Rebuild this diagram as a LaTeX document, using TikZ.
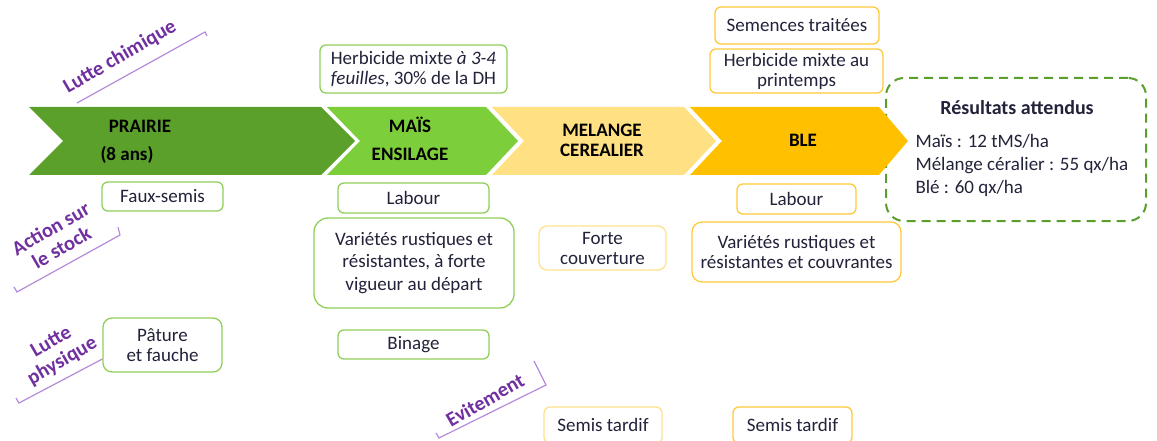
\documentclass[tikz,border=0pt]{standalone}
\usepackage{fontspec}
\setmainfont{Carlito}
\definecolor{prairie}{HTML}{5CA02C}
\definecolor{mais}{HTML}{7CCF3A}
\definecolor{melange}{HTML}{FFE083}
\definecolor{ble}{HTML}{FFC000}
\definecolor{boxgreen}{HTML}{8FD05A}
\definecolor{boxyellow}{HTML}{FFC93C}
\definecolor{boxlight}{HTML}{FFE18C}
\definecolor{dashgreen}{HTML}{5A9E2C}
\definecolor{txt}{HTML}{22223A}
\definecolor{purptxt}{HTML}{7030A0}
\definecolor{purpline}{HTML}{B48AD9}
\tikzset{
  gbox/.style={draw=boxgreen, line width=1.3pt, rounded corners=6pt, fill=white, align=center, inner sep=1pt, text=txt, font=\fontsize{19}{20}\selectfont},
  ybox/.style={gbox, draw=boxyellow},
  lbox/.style={gbox, draw=boxlight},
  chevtxt/.style={font=\bfseries\fontsize{19}{20}\selectfont, align=center, text=black},
  purp/.style={text=purptxt, font=\bfseries\fontsize{20.5}{21}\selectfont, rotate=30, align=center},
  brk/.style={draw=purpline, line width=1.2pt},
}
\begin{document}
\begin{tikzpicture}[x=1pt,y=-1pt]
\useasboundingbox (0,0) rectangle (1157,441);
\clip (0,0) rectangle (1157,441);

% results box (behind chevrons)
\node[draw=dashgreen, line width=2pt, dash pattern=on 9pt off 6pt, rounded corners=18pt,
      minimum width=260pt, minimum height=143pt, anchor=north west, inner sep=0pt] (res) at (885,77) {};

% chevrons
\fill[prairie] (29,107) -- (321,107) -- (355,141) -- (321,175) -- (29,175) -- (63,141) -- cycle;
\fill[mais] (327,107) -- (486,107) -- (518,141) -- (486,175) -- (327,175) -- (360,141) -- cycle;
\fill[melange] (492,107) -- (684,107) -- (716,141) -- (684,175) -- (492,175) -- (524,141) -- cycle;
\fill[ble] (690,107) -- (879,107) -- (908,141) -- (879,175) -- (690,175) -- (722,141) -- cycle;

\node[chevtxt] (pr1) at (140,126) {PRAIRIE};
\node[chevtxt] (pr2) at (127,155) {(8 ans)};
\node[chevtxt, font=\bfseries\fontsize{19}{28}\selectfont] (ma) at (410,139) {MAÏS\\ENSILAGE};
\node[chevtxt] (me) at (602,140) {MELANGE\\CEREALIER};
\node[chevtxt] (bl) at (803,140) {BLE};

% results text
\node[font=\bfseries\fontsize{20}{20}\selectfont, text=txt] (rt) at (1017,108) {Résultats attendus};
\node[font=\fontsize{19}{23}\selectfont, text=txt, align=left, anchor=west] (rl) at (912,165)
  {Maïs : 12 tMS/ha\\Mélange céralier : 55 qx/ha\\Blé : 60 qx/ha};

% boxes
\node[gbox, minimum width=187pt, minimum height=48pt] (h1) at (413.5,69)
  {Herbicide mixte \textit{à 3-4}\\\textit{feuilles}, 30\% de la DH};
\node[ybox, minimum width=164pt, minimum height=37pt] (st) at (797,25.5) {Semences traitées};
\node[ybox, minimum width=173pt, minimum height=44pt] (hp) at (796.5,71) {Herbicide mixte au\\printemps};
\node[gbox, minimum width=121pt, minimum height=29pt] (fs) at (162.5,196.5) {Faux-semis};
\node[gbox, minimum width=151pt, minimum height=30pt] (lab1) at (413.5,198) {Labour};
\node[gbox, rounded corners=14pt, font=\fontsize{19}{22.5}\selectfont, minimum width=200pt, minimum height=90pt] (var1) at (414,263)
  {Variétés rustiques et\\résistantes, à forte\\vigueur au départ};
\node[gbox, rounded corners=9pt, minimum width=119pt, minimum height=54pt] (pat) at (162.5,345) {Pâture\\et fauche};
\node[gbox, minimum width=151pt, minimum height=29pt] (bin) at (413.5,344.5) {Binage};
\node[lbox, rounded corners=8pt, minimum width=127pt, minimum height=44pt] (fc) at (602.5,248) {Forte\\couverture};
\node[ybox, minimum width=119pt, minimum height=30pt] (lab2) at (796.5,199) {Labour};
\node[ybox, rounded corners=10pt, minimum width=209pt, minimum height=60pt] (var2) at (796.5,252)
  {Variétés rustiques et\\résistantes et couvrantes};
\node[lbox, minimum width=118pt, minimum height=36pt] (sem1) at (603,425) {Semis tardif};
\node[ybox, minimum width=119pt, minimum height=36pt] (sem2) at (792.5,425) {Semis tardif};

% purple labels
\node[purp] (lc) at (120,57) {Lutte chimique};
\coordinate (lca) at (77,103);
\coordinate (lcb) at (205,32);
\coordinate (lcc) at (207,36);
\draw[brk] (lca) -- (lcb) -- (lcc);

\node[purp, font=\bfseries\fontsize{20.5}{22}\selectfont] (as) at (56,238) {Action sur\\le stock};
\coordinate (asa) at (14,287);
\coordinate (asb) at (17,292);
\coordinate (asc) at (120,235);
\coordinate (asd) at (118,227);
\draw[brk] (asa) -- (asb) -- (asc) -- (asd);

\node[purp, font=\bfseries\fontsize{20.5}{22}\selectfont] (lp) at (57,352) {Lutte\\physique};
\coordinate (lpa) at (16,398);
\coordinate (lpb) at (19,403);
\draw[brk] (lpa) -- (lpb) -- (pat.west |- 0,359);

\node[purp] (ev) at (485,400) {Evitement};
\coordinate (eva) at (436,433);
\coordinate (evb) at (439,438);
\coordinate (evc) at (546,385);
\coordinate (evd) at (534,361);
\draw[brk] (eva) -- (evb) -- (evc) -- (evd);
\end{tikzpicture}
\end{document}
